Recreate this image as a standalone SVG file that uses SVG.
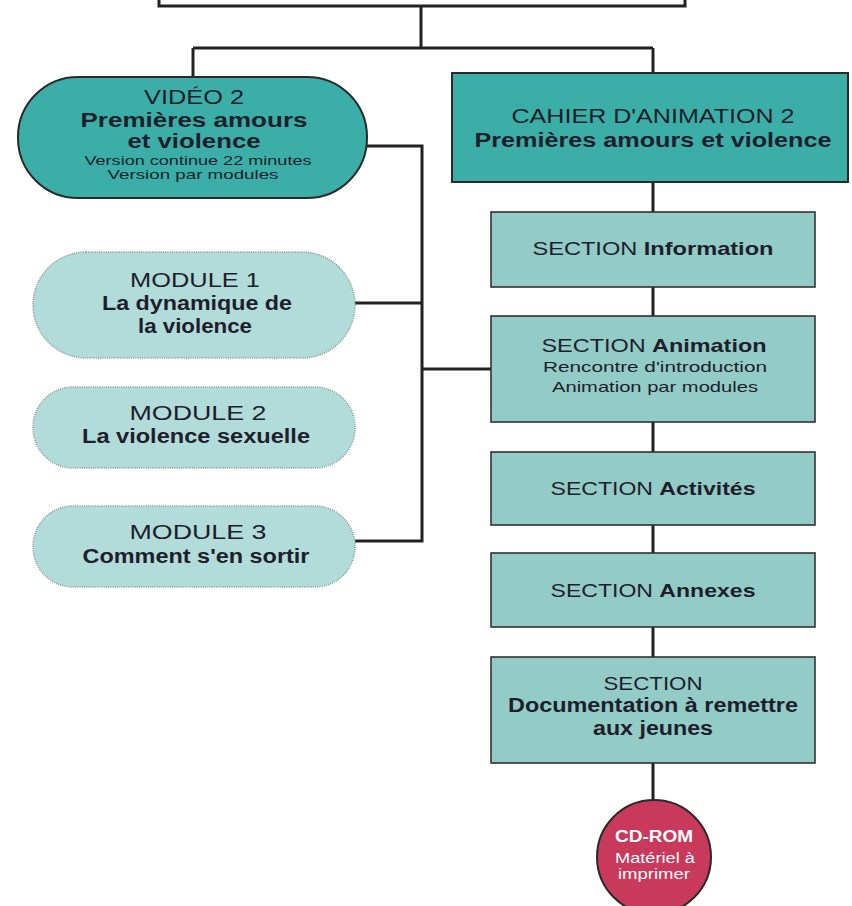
<svg xmlns="http://www.w3.org/2000/svg" width="852" height="906" viewBox="0 0 852 906">
<style>
text{font-family:"Liberation Sans",Arial,sans-serif;fill:#1e1e2c;text-anchor:middle}
.b{font-weight:bold}
.dark{fill:#3aaea7;stroke:#2a2a2a;stroke-width:2}
.sec{fill:#93cbc6;stroke:#333;stroke-width:1.6}
.mod{fill:#b2dcd9;stroke:#8a9a98;stroke-width:1.6;stroke-dasharray:1 1.2}
.con{fill:none;stroke:#222;stroke-width:3}
.w{fill:#fff}
</style>
<rect width="852" height="906" fill="#fff"/>
<g id="connectors">
<rect x="159" y="-20" width="526" height="26" fill="#fff" stroke="#222" stroke-width="3"/>
<path class="con" d="M421 6V48M193 48H653M193 48V78M653 48V73"/>
<path class="con" d="M366 146H422V541H355M355 303H422M422 369H492"/>
<path class="con" d="M653 182V212M653 287V316M653 422V452M653 525V553M653 627V657M653 763V800"/>
</g>
<g id="video">
<rect class="dark" x="18" y="77" width="349" height="121" rx="60"/>
<text x="194" y="103.5" font-size="20" textLength="100" lengthAdjust="spacingAndGlyphs">VIDÉO 2</text>
<text class="b" x="194" y="126.5" font-size="19.5" textLength="227" lengthAdjust="spacingAndGlyphs">Premières amours</text>
<text class="b" x="194" y="148" font-size="19.5" textLength="133" lengthAdjust="spacingAndGlyphs">et violence</text>
<text x="198" y="164.5" font-size="13.5" textLength="227" lengthAdjust="spacingAndGlyphs">Version continue 22 minutes</text>
<text x="193" y="179" font-size="13.5" textLength="171" lengthAdjust="spacingAndGlyphs">Version par modules</text>
</g>
<g id="module1">
<rect class="mod" x="33" y="252" width="322" height="106" rx="53"/>
<text x="195" y="287" font-size="21" textLength="130" lengthAdjust="spacingAndGlyphs">MODULE  1</text>
<text class="b" x="197" y="310" font-size="20" textLength="190" lengthAdjust="spacingAndGlyphs">La dynamique de</text>
<text class="b" x="195" y="333" font-size="20" textLength="114" lengthAdjust="spacingAndGlyphs">la violence</text>
</g>
<g id="module2">
<rect class="mod" x="33" y="387" width="322" height="81" rx="40"/>
<text x="198" y="420" font-size="21" textLength="137" lengthAdjust="spacingAndGlyphs">MODULE  2</text>
<text class="b" x="196" y="443" font-size="20" textLength="228" lengthAdjust="spacingAndGlyphs">La violence sexuelle</text>
</g>
<g id="module3">
<rect class="mod" x="33" y="506" width="322" height="81" rx="40"/>
<text x="198" y="539" font-size="21" textLength="137" lengthAdjust="spacingAndGlyphs">MODULE  3</text>
<text class="b" x="196" y="563" font-size="20" textLength="227" lengthAdjust="spacingAndGlyphs">Comment s'en sortir</text>
</g>
<g id="cahier">
<rect class="dark" x="452" y="73" width="396" height="109"/>
<text x="653" y="123" font-size="20" textLength="283" lengthAdjust="spacingAndGlyphs">CAHIER D'ANIMATION 2</text>
<text class="b" x="653" y="147" font-size="20" textLength="357" lengthAdjust="spacingAndGlyphs">Premières amours et violence</text>
</g>
<g id="information">
<rect class="sec" x="491" y="212" width="324" height="75"/>
<text x="653" y="255" font-size="18.5" textLength="241" lengthAdjust="spacingAndGlyphs">SECTION <tspan class="b">Information</tspan></text>
</g>
<g id="animation">
<rect class="sec" x="491" y="316" width="324" height="106"/>
<text x="654" y="352" font-size="18.5" textLength="225" lengthAdjust="spacingAndGlyphs">SECTION <tspan class="b">Animation</tspan></text>
<text x="655" y="372" font-size="15" textLength="224" lengthAdjust="spacingAndGlyphs">Rencontre d'introduction</text>
<text x="655" y="392" font-size="15" textLength="206" lengthAdjust="spacingAndGlyphs">Animation par modules</text>
</g>
<g id="activites">
<rect class="sec" x="491" y="452" width="324" height="73"/>
<text x="653" y="495" font-size="18.5" textLength="205" lengthAdjust="spacingAndGlyphs">SECTION <tspan class="b">Activités</tspan></text>
</g>
<g id="annexes">
<rect class="sec" x="491" y="553" width="324" height="74"/>
<text x="653" y="597" font-size="18.5" textLength="205" lengthAdjust="spacingAndGlyphs">SECTION <tspan class="b">Annexes</tspan></text>
</g>
<g id="documentation">
<rect class="sec" x="491" y="657" width="324" height="106"/>
<text x="653" y="690" font-size="19" textLength="99" lengthAdjust="spacingAndGlyphs">SECTION</text>
<text class="b" x="653" y="712" font-size="20" textLength="290" lengthAdjust="spacingAndGlyphs">Documentation à remettre</text>
<text class="b" x="653" y="735" font-size="20" textLength="120" lengthAdjust="spacingAndGlyphs">aux jeunes</text>
</g>
<g id="cdrom">
<circle cx="654" cy="857" r="57" fill="#c8395b" stroke="#2a2a2a" stroke-width="2"/>
<text class="b w" x="654" y="842" font-size="16" textLength="78" lengthAdjust="spacingAndGlyphs">CD-ROM</text>
<text class="w" x="655" y="863" font-size="14" textLength="80" lengthAdjust="spacingAndGlyphs">Matériel à</text>
<text class="w" x="654" y="879" font-size="14" textLength="72" lengthAdjust="spacingAndGlyphs">imprimer</text>
</g>
</svg>
